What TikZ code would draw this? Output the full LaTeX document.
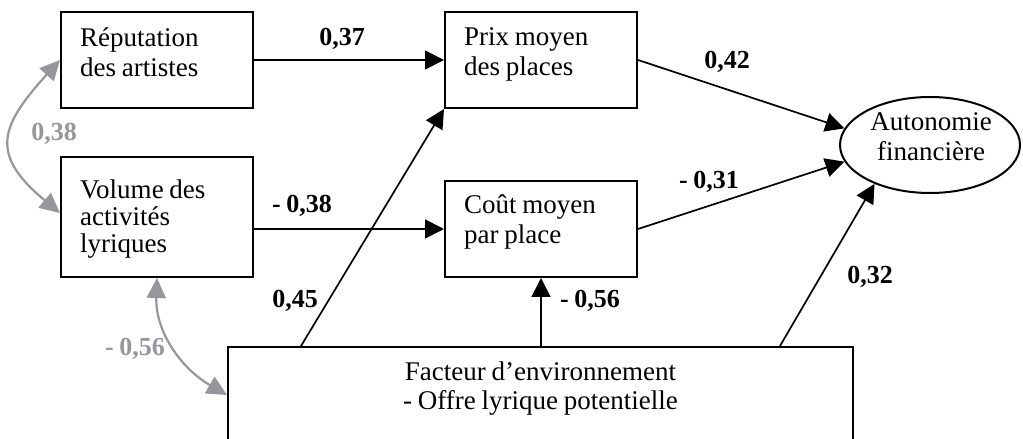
\documentclass[tikz,border=0pt]{standalone}
\usepackage{fontspec}
\setmainfont{Liberation Serif}[WordSpace=0.85]
\usetikzlibrary{arrows.meta,shapes.geometric,calc}
\definecolor{arrgray}{RGB}{150,151,156}
\newcommand{\fstrut}{\rule{0pt}{20pt}}
\begin{document}
\begin{tikzpicture}[x=1pt,y=1pt,
  font=\fontsize{27}{30}\selectfont,
  box/.style={draw, line width=2pt, rectangle, inner sep=0pt, minimum width=192pt},
  txt/.style={inner sep=0pt, align=left, anchor=north west},
  ctxt/.style={inner sep=0pt, align=center, anchor=north},
  blk/.style={line width=1.7pt, -{Triangle[length=19pt,width=19pt]}},
  gry/.style={arrgray, line width=2.2pt, {Triangle[length=20pt,width=19pt]}-{Triangle[length=20pt,width=19pt]}},
  lbl/.style={font=\fontsize{26}{30}\selectfont\bfseries, inner sep=0pt},
  glbl/.style={lbl, text=arrgray}]
\useasboundingbox (0,0) rectangle (1023,439);
\clip (0,0) rectangle (1023,439);

% boxes
\node[box, minimum height=96pt] (rep) at (157,379) {};
\node[box, minimum height=120pt] (vol) at (157,222) {};
\node[box, minimum height=96pt] (prix) at (541,379) {};
\node[box, minimum height=96pt] (cout) at (541,210) {};
\node[draw, ellipse, line width=2pt, minimum width=180pt, minimum height=96pt, inner sep=0pt] (aut) at (930,294) {};
\node[draw, line width=2pt, minimum width=625pt, minimum height=113pt, inner sep=0pt] (fac) at (540.5,35.5) {};

% texts
\node[txt] (reptxt) at ([shift={(20pt,-15pt)}]rep.north west) {\fstrut Réputation\\des artistes};
\node[txt, font=\fontsize{27}{27}\selectfont] (voltxt) at ([shift={(20pt,-22pt)}]vol.north west) {\fstrut Volume des\\activités\\lyriques};
\node[txt] (prixtxt) at ([shift={(20pt,-14pt)}]prix.north west) {\fstrut Prix moyen\\des places};
\node[txt] (couttxt) at ([shift={(20pt,-13pt)}]cout.north west) {\fstrut Coût moyen\\par place};
\node[ctxt] (auttxt) at ([shift={(1pt,35pt)}]aut.center) {\fstrut Autonomie\\financière};
\node[ctxt, font=\fontsize{27}{29}\selectfont] (factxt) at ([yshift=-14pt]fac.north) {\fstrut Facteur d’environnement\\- Offre lyrique potentielle};

\coordinate (f1) at ([xshift=74pt]fac.north west);
\coordinate (f3) at ([xshift=553pt]fac.north west);

% paths
\draw[blk] (rep) -- (prix);
\draw[blk] (vol.east |- cout.west) -- (cout.west);
\draw[blk] (prix.east) -- (aut.169);
\draw[blk] (cout.east) -- (aut.191);
\draw[blk] (f1) -- (prix.south west);
\draw[blk] (fac.north -| cout.south) -- (cout.south);
\draw[blk] (f3) -- (aut.215);

\draw[gry] (rep.west) .. controls (-1,312) and (-10,284) .. ([yshift=4pt]vol.west);
\draw[gry] (vol.south) to[out=-92, in=150] ([yshift=8.5pt]fac.west);

% coefficients
\node[lbl] (l037) at (342,400) {0,37};
\node[lbl] (l042) at (727,377) {0,42};
\node[lbl] (l031) at (709,257) {- 0,31};
\node[lbl] (l038) at (302,233) {- 0,38};
\node[lbl] (l045) at (295,138) {0,45};
\node[lbl] (l056) at (590,138) {- 0,56};
\node[lbl] (l032) at (870,162) {0,32};
\node[glbl] (g038) at (54,305) {0,38};
\node[glbl] (g056) at (135,90) {- 0,56};
\end{tikzpicture}
\end{document}
